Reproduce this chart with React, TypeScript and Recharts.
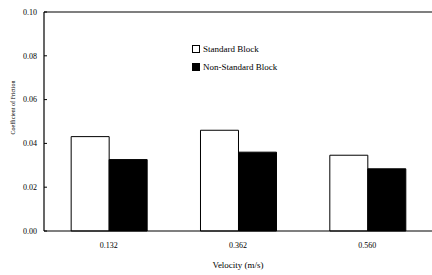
import React from 'react';
import { BarChart, Bar, XAxis, YAxis, Legend, ReferenceLine } from 'recharts';

const velocities = ['0.132', '0.362', '0.560'];
const standardBlock = [0.0431, 0.046, 0.0346];
const nonStandardBlock = [0.0326, 0.036, 0.0284];
const yTicks = [0, 0.02, 0.04, 0.06, 0.08, 0.1];

const data = velocities.map((v, i) => ({
  velocity: v,
  standard: standardBlock[i],
  nonStandard: nonStandardBlock[i],
}));

const FONT = '"Liberation Serif", "Times New Roman", serif';

const LegendContent = () => (
  <div style={{ fontFamily: FONT, fontSize: 9, color: '#000', lineHeight: '18px' }}>
    {[
      { label: 'Standard Block', fill: '#fff' },
      { label: 'Non-Standard Block', fill: '#000' },
    ].map((e) => (
      <div key={e.label} style={{ display: 'flex', alignItems: 'center', whiteSpace: 'nowrap' }}>
        <span
          style={{
            display: 'inline-block',
            width: 6,
            height: 6,
            border: '1px solid #000',
            background: e.fill,
            marginRight: 3,
          }}
        />
        <span>{e.label}</span>
      </div>
    ))}
  </div>
);

export default function App() {
  return (
    <div style={{ position: 'absolute', left: 0, top: 0, width: 432, height: 275, background: '#fff' }}>
      <BarChart
        width={432}
        height={275}
        data={data}
        margin={{ top: 12, right: 0, left: 0, bottom: 0 }}
        barCategoryGap="21%"
        barGap={0}
      >
        <XAxis
          dataKey="velocity"
          height={44}
          tickLine={false}
          tickMargin={5}
          axisLine={{ stroke: '#000', strokeWidth: 1.2 }}
          tick={{ fontFamily: FONT, fontSize: 8, fill: '#000' }}
          label={{
            value: 'Velocity (m/s)',
            position: 'insideBottom',
            offset: 7,
            style: { fontFamily: FONT, fontSize: 9, fill: '#000' },
          }}
        />
        <YAxis
          width={44}
          domain={[0, 0.1]}
          ticks={yTicks}
          interval={0}
          tickFormatter={(v: number) => v.toFixed(2)}
          tickSize={-3}
          tickMargin={10}
          tickLine={{ stroke: '#000' }}
          axisLine={{ stroke: '#000', strokeWidth: 1.2 }}
          tick={{ fontFamily: FONT, fontSize: 8, fill: '#000' }}
          label={{
            content: (props: any) => {
              const vb = props.viewBox || {};
              const x = (vb.x ?? 0) + 13;
              const y = (vb.y ?? 0) + (vb.height ?? 0) / 2 - 14;
              return (
                <text
                  x={x}
                  y={y}
                  transform={`rotate(-90, ${x}, ${y})`}
                  textAnchor="middle"
                  dominantBaseline="central"
                  style={{ fontFamily: FONT, fontSize: 6, fill: '#000' }}
                >
                  Coefficient of Friction
                </text>
              );
            },
          }}
        />
        <ReferenceLine y={0.1} stroke="#000" strokeWidth={1.2} ifOverflow="extendDomain" />
        <Legend
          layout="vertical"
          align="center"
          verticalAlign="middle"
          content={<LegendContent />}
          wrapperStyle={{ position: 'absolute', left: 192, top: 40, width: 'auto' }}
        />
        <Bar dataKey="standard" name="Standard Block" fill="#fff" stroke="#000" strokeWidth={1} isAnimationActive={false} />
        <Bar dataKey="nonStandard" name="Non-Standard Block" fill="#000" stroke="#000" strokeWidth={1} isAnimationActive={false} />
      </BarChart>
    </div>
  );
}
